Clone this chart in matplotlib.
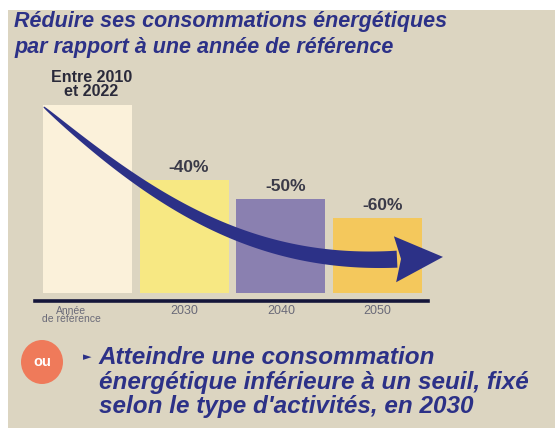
import numpy as np
import matplotlib.pyplot as plt
from matplotlib.patches import Rectangle, Ellipse, Polygon
from matplotlib.transforms import ScaledTranslation

# data
categories = ["Année\nde référence", "2030", "2040", "2050"]
values = [100, 60, 50, 40]
labels = ["Entre 2010\net 2022", "-40%", "-50%", "-60%"]
colors = ["#fbf1da", "#f7e883", "#8a80b0", "#f4c85c"]

W, H = 555, 428
navy = "#2c3187"
plt.rcParams['font.family'] = ['Liberation Sans', 'DejaVu Sans']

fig = plt.figure(figsize=(W / 100, H / 100), dpi=100, facecolor="white")
# beige panel (white strip on top and left)
fig.patches.append(Rectangle((8 / W, 0), 1, 1 - 10 / H, transform=fig.transFigure,
                             facecolor="#dcd5c1", edgecolor="none", zorder=-5))

ax = fig.add_axes([35 / W, 1 - 293 / H, (428 - 35) / W, (293 - 105) / H])
ax.set_facecolor("none")
ax.set_zorder(2)
x = np.arange(len(values))
ax.bar(x, values, width=0.92, color=colors, zorder=2)
ax.set_xlim(-0.54, 3.52)
ax.set_ylim(0, 100)

for s in ["top", "left", "right"]:
    ax.spines[s].set_visible(False)
ax.spines["bottom"].set_position(("outward", 6))
ax.spines["bottom"].set_linewidth(2.6)
ax.spines["bottom"].set_color("#15163a")
ax.set_yticks([])
ax.set_xticks(x)
ax.set_xticklabels(categories, color="#6a6a78")
ax.tick_params(axis="x", length=0, pad=3, labelsize=9)
first = ax.get_xticklabels()[0]
first.set_fontsize(7.5)
first.set_linespacing(0.75)
first.set_transform(first.get_transform() + ScaledTranslation(-0.16, 0, fig.dpi_scale_trans))

# value labels
for i, (v, t) in enumerate(zip(values, labels)):
    if i == 0:
        ax.text(i + 0.04, v + 3, t, ha="center", va="bottom", fontsize=11.5,
                fontweight="bold", color="#2a2a3a", linespacing=0.95, clip_on=False)
    else:
        ax.text(i + 0.05, v + 2.5, t, ha="center", va="bottom", fontsize=12.5,
                fontweight="bold", color="#3a3a48", clip_on=False)

# tapered curved arrow, from top-left of first bar down to the last bar
fig.canvas.draw()
p0 = np.array([-0.45, 99.0])
p1 = np.array([0.65, 50.0])
p2 = np.array([1.68, 14.0])
p3 = np.array([3.2, 18.0])
t = np.linspace(0, 1, 200)[:, None]
curve = (1 - t) ** 3 * p0 + 3 * (1 - t) ** 2 * t * p1 + 3 * (1 - t) * t ** 2 * p2 + t ** 3 * p3
pix = ax.transData.transform(curve)
d = np.gradient(pix, axis=0)
d /= np.linalg.norm(d, axis=1)[:, None]
nrm = np.column_stack([-d[:, 1], d[:, 0]])
w = (0.5 + 8.0 * t[:, 0] ** 0.6)[:, None]
outline = np.vstack([pix + nrm * w, (pix - nrm * w)[::-1]])
end = pix[-1]
dirv = d[-1]
nv = nrm[-1]
head = np.array([end + nv * 23 - dirv * 2, end + dirv * 46, end - nv * 23 - dirv * 2,
                 end + dirv * 4])
inv = ax.transData.inverted()
ax.add_patch(Polygon(inv.transform(outline), closed=True, facecolor=navy,
                     edgecolor="none", zorder=3, clip_on=False))
ax.add_patch(Polygon(inv.transform(head), closed=True, facecolor=navy,
                     edgecolor="none", zorder=3, clip_on=False))

# title
fig.text(14 / W, 1 - 22 / H, "Réduire ses consommations énergétiques", fontsize=15.5,
         fontweight="bold", fontstyle="italic", color=navy, va="center")
fig.text(14 / W, 1 - 47 / H, "par rapport à une année de référence", fontsize=15.5,
         fontweight="bold", fontstyle="italic", color=navy, va="center")

# bottom note
fig.patches.append(Ellipse((42 / W, 1 - 362 / H), 42 / W, 44 / H, transform=fig.transFigure,
                           facecolor="#ef7a5a", edgecolor="none"))
fig.text(42 / W, 1 - 362 / H, "ou", fontsize=10.5, fontweight="bold", color="white",
         ha="center", va="center")
fig.text(83 / W, 1 - 357 / H, "►", fontsize=8, color=navy, va="center",
         family=["DejaVu Sans"])
note = ["Atteindre une consommation",
        "énergétique inférieure à un seuil, fixé",
        "selon le type d'activités, en 2030"]
for k, line in enumerate(note):
    fig.text(99 / W, 1 - (358 + 24.5 * k) / H, line, fontsize=17.5, fontweight="bold",
             fontstyle="italic", color=navy, va="center")

fig.savefig("out.png", dpi=100, facecolor="white")
